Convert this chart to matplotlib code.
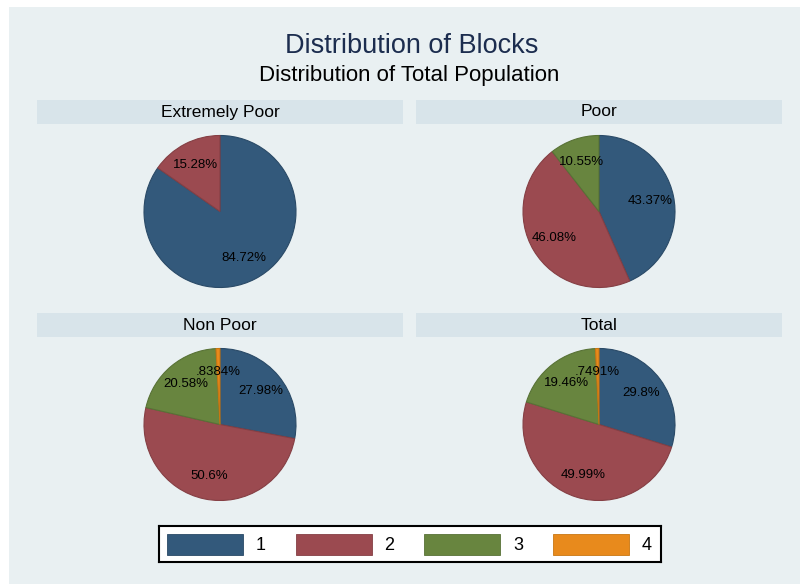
import matplotlib
matplotlib.use("Agg")
import matplotlib.pyplot as plt
from matplotlib.patches import Rectangle

# data
panels = ["Extremely Poor", "Poor", "Non Poor", "Total"]
extremely_poor = [84.72, 15.28]
poor = [43.37, 46.08, 10.55]
non_poor = [27.98, 50.6, 20.58, 0.8384]
total = [29.8, 49.99, 19.46, 0.7491]
categories = ["1", "2", "3", "4"]

colors = ["#33597b", "#9b4a50", "#68853f", "#e88a1c"]
edges = ["#2a4a67", "#853f44", "#587236", "#c97712"]
bg = "#e9f0f2"
strip = "#d8e4ea"

plt.rcParams['font.family'] = ['Liberation Sans', 'DejaVu Sans']

W, H = 800, 584
fig = plt.figure(figsize=(W / 100, H / 100), dpi=100)
fig.patch.set_facecolor("white")


def box(x0, y0, x1, y1):
    # pixel box (top-left origin) -> figure rect
    return [x0 / W, 1 - y1 / H, (x1 - x0) / W, (y1 - y0) / H]


# grey-blue graph region
bax = fig.add_axes(box(9, 7, 800, 584), zorder=-1)
bax.set_facecolor(bg)
bax.axis("off")
bax.add_patch(Rectangle((0, 0), 1, 1, transform=bax.transAxes,
                        facecolor=bg, edgecolor="none"))

fig.text(412 / W, 1 - 46 / H, "Distribution of Blocks", ha="center",
         va="center", fontsize=19.5, color="#1c2d4f")
fig.text(409 / W, 1 - 76 / H, "Distribution of Total Population",
         ha="center", va="center", fontsize=16, color="black")

cols = [(37, 403), (416, 782)]
rows = [(100, 124, 299), (313, 337, 512)]
data = [extremely_poor, poor, non_poor, total]
R = 76

for i, (name, vals) in enumerate(zip(panels, data)):
    x0, x1 = cols[i % 2]
    h0, h1, y1 = rows[i // 2]
    hax = fig.add_axes(box(x0, h0, x1, h1))
    hax.set_facecolor(strip)
    hax.set_xticks([])
    hax.set_yticks([])
    for s in hax.spines.values():
        s.set_visible(False)
    hax.text(0.5, 0.5, name, ha="center", va="center", fontsize=12.5,
             transform=hax.transAxes)

    ax = fig.add_axes(box(x0, h1, x1, y1))
    wedges, _, autotexts = ax.pie(vals, colors=colors[:len(vals)],
                                  startangle=90, counterclock=False,
                                  autopct="%.4g", pctdistance=0.69,
                                  wedgeprops=dict(linewidth=0.8))
    for w, e in zip(wedges, edges):
        w.set_edgecolor(e)
    for t, v in zip(autotexts, vals):
        t.set_text(f"{v:.4g}%".lstrip("0"))
        t.set_fontsize(9.5)
        t.set_color("black")
    ax.set_aspect("auto")
    ax.set_xlim(-(x1 - x0) / 2 / R, (x1 - x0) / 2 / R)
    ax.set_ylim(-(y1 - h1) / 2 / R, (y1 - h1) / 2 / R)
    ax.axis("on")
    ax.set_facecolor("white")
    ax.set_xticks([])
    ax.set_yticks([])
    for s in ax.spines.values():
        s.set_visible(False)

# legend
lax = fig.add_axes(box(159, 526, 661, 562))
lax.set_xlim(159, 661)
lax.set_ylim(562, 526)
lax.set_facecolor("white")
lax.set_xticks([])
lax.set_yticks([])
for s in lax.spines.values():
    s.set_edgecolor("black")
    s.set_linewidth(1.5)
for k, (lab, c) in enumerate(zip(categories, colors)):
    left = 167 + k * 128.5
    lax.add_patch(Rectangle((left, 534), 76, 21, facecolor=c,
                            edgecolor=edges[k], linewidth=0.6))
    lax.text(left + 94, 545, lab, ha="center", va="center", fontsize=13)

fig.savefig("out.png", dpi=100, facecolor=fig.get_facecolor())
